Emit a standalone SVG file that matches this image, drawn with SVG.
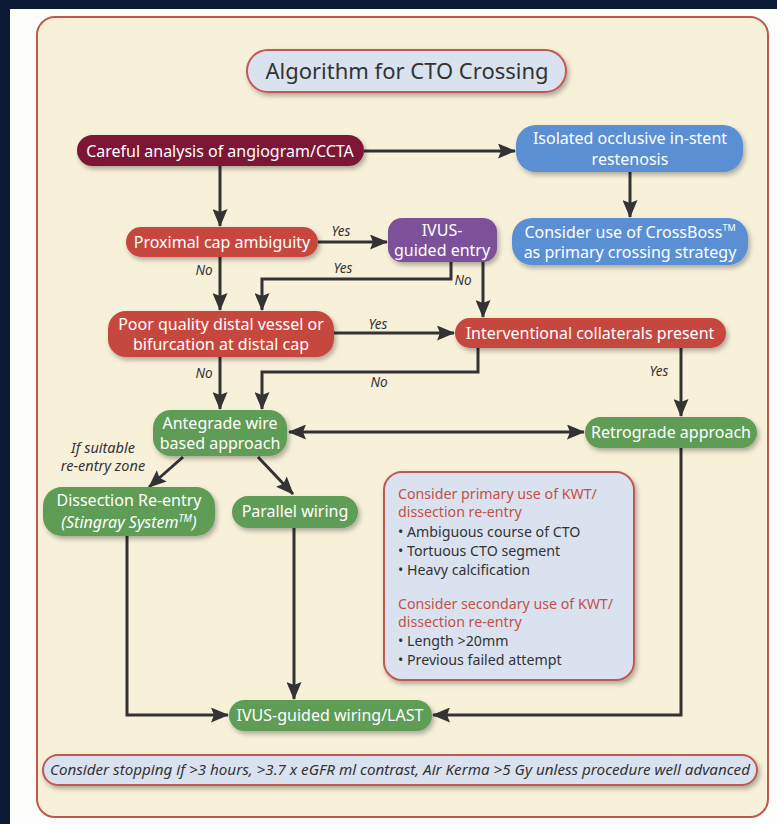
<svg xmlns="http://www.w3.org/2000/svg" width="777" height="824" viewBox="0 0 777 824">
<defs>
<filter id="sh" x="-10%" y="-20%" width="125%" height="160%">
<feDropShadow dx="2" dy="3" stdDeviation="2.5" flood-color="#000" flood-opacity="0.3"/>
</filter>
<marker id="ah" markerUnits="userSpaceOnUse" markerWidth="19" markerHeight="15" refX="17" refY="7.5" orient="auto-start-reverse">
<path d="M0,0 L18,7.5 L0,15 L3,7.5 z" fill="#333"/>
</marker>
<style>
.t{font-family:"Noto Sans","Liberation Sans",sans-serif;fill:#fff;font-size:16px;text-anchor:middle}
.lab{font-family:"Noto Sans","Liberation Sans",sans-serif;fill:#333;font-size:13.5px;font-style:italic;text-anchor:middle}
.lab2{font-family:"Noto Sans","Liberation Sans",sans-serif;fill:#333;font-size:14.5px;font-style:italic;text-anchor:middle}
.box{stroke:none;filter:url(#sh)}
.c{fill:none;stroke:#333;stroke-width:3;marker-end:url(#ah)}
.red{fill:#c6473c}
.grn{fill:#5f9c57}
.blu{fill:#5a8fd3}
.info{font-family:"Noto Sans","Liberation Sans",sans-serif;font-size:14.2px;fill:#333}
.ih{fill:#c4504a}
</style>
</defs>
<rect x="0" y="0" width="777" height="824" fill="#0c1a35"/>
<rect x="10" y="9" width="767" height="815" fill="#fdfdfb"/>
<rect x="37" y="17" width="731" height="800" rx="18" fill="#f8f1da" stroke="#c0584f" stroke-width="2"/>

<g id="title">
<rect x="247" y="50" width="319" height="42" rx="21" fill="#dae2ef" stroke="#bf5a52" stroke-width="2" filter="url(#sh)"/>
<text x="407" y="79" font-family="'Noto Sans','Liberation Sans',sans-serif" font-size="22" fill="#333" text-anchor="middle">Algorithm for CTO Crossing</text>
</g>

<g id="connectors">
<path class="c" d="M364,151 H515"/>
<path class="c" d="M630,172 V217"/>
<path class="c" d="M220,166 V226"/>
<path class="c" d="M318,242 H387"/>
<path class="c" d="M451,262 V279 H262 V310"/>
<path class="c" d="M483,262 V317"/>
<path class="c" d="M220,257 V310"/>
<path class="c" d="M334,333 H454"/>
<path class="c" d="M478,348 V372 H262 V409"/>
<path class="c" d="M220,357 V409"/>
<path class="c" d="M681,348 V416"/>
<path class="c" d="M289,432 H584" marker-start="url(#ah)"/>
<path class="c" d="M183,457 L149,487"/>
<path class="c" d="M258,457 L293,494"/>
<path class="c" d="M127,536 V715 H228"/>
<path class="c" d="M294,528 V699"/>
<path class="c" d="M681,448 V715 H433"/>
<text class="lab" x="341" y="236">Yes</text>
<text class="lab" x="343" y="273">Yes</text>
<text class="lab" x="204" y="275">No</text>
<text class="lab" x="463" y="285">No</text>
<text class="lab" x="378" y="329">Yes</text>
<text class="lab" x="204" y="378">No</text>
<text class="lab" x="379" y="387">No</text>
<text class="lab" x="659" y="376">Yes</text>
<text class="lab2" x="103" y="453">If suitable</text>
<text class="lab2" x="103" y="471">re-entry zone</text>
</g>

<g id="careful">
<rect class="box" x="77" y="135" width="287" height="31" rx="15.5" fill="#7d1836"/>
<text class="t" x="220" y="156.5">Careful analysis of angiogram/CCTA</text>
</g>
<g id="isr">
<rect class="box blu" x="516" y="125" width="227" height="47" rx="20"/>
<text class="t" x="630" y="144">Isolated occlusive in-stent</text>
<text class="t" x="630" y="164.5">restenosis</text>
</g>
<g id="crossboss">
<rect class="box blu" x="512" y="218" width="236" height="47" rx="20"/>
<text class="t" x="630" y="238">Consider use of CrossBoss<tspan font-size="9" dy="-7">TM</tspan></text>
<text class="t" x="630" y="258">as primary crossing strategy</text>
</g>
<g id="proximal">
<rect class="box red" x="126" y="227" width="192" height="30" rx="15"/>
<text class="t" x="222" y="248">Proximal cap ambiguity</text>
</g>
<g id="ivus-entry">
<rect class="box" x="388" y="218" width="109" height="44" rx="14" fill="#7b5199"/>
<text class="t" x="442" y="236">IVUS-</text>
<text class="t" x="442" y="256">guided entry</text>
</g>
<g id="poor">
<rect class="box red" x="108" y="311" width="226" height="46" rx="18"/>
<text class="t" x="221" y="330">Poor quality distal vessel or</text>
<text class="t" x="221" y="350">bifurcation at distal cap</text>
</g>
<g id="collaterals">
<rect class="box red" x="455" y="318" width="271" height="30" rx="15"/>
<text class="t" x="590" y="339">Interventional collaterals present</text>
</g>
<g id="antegrade">
<rect class="box grn" x="153" y="410" width="134" height="46" rx="18"/>
<text class="t" x="220" y="429">Antegrade wire</text>
<text class="t" x="220" y="449">based approach</text>
</g>
<g id="retrograde">
<rect class="box grn" x="585" y="417" width="172" height="31" rx="15.5"/>
<text class="t" x="671" y="438">Retrograde approach</text>
</g>
<g id="dissection">
<rect class="box grn" x="43" y="487" width="172" height="49" rx="19"/>
<text class="t" x="129" y="506">Dissection Re-entry</text>
<text class="t" x="129" y="528" font-style="italic">(Stingray System<tspan font-size="10" dy="-6">TM</tspan><tspan dy="6">)</tspan></text>
</g>
<g id="parallel">
<rect class="box grn" x="232" y="496" width="126" height="32" rx="16"/>
<text class="t" x="295" y="517">Parallel wiring</text>
</g>
<g id="info">
<rect x="384" y="472" width="250" height="208" rx="18" fill="#dae2ef" stroke="#bf5a52" stroke-width="2" filter="url(#sh)"/>
<text class="info ih" x="398" y="499">Consider primary use of KWT/</text>
<text class="info ih" x="398" y="517">dissection re-entry</text>
<text class="info" x="398" y="537">• Ambiguous course of CTO</text>
<text class="info" x="398" y="556">• Tortuous CTO segment</text>
<text class="info" x="398" y="575">• Heavy calcification</text>
<text class="info ih" x="398" y="609">Consider secondary use of KWT/</text>
<text class="info ih" x="398" y="627">dissection re-entry</text>
<text class="info" x="398" y="646">• Length &gt;20mm</text>
<text class="info" x="398" y="665">• Previous failed attempt</text>
</g>
<g id="ivus-wiring">
<rect class="box grn" x="229" y="700" width="203" height="31" rx="15.5"/>
<text class="t" x="330" y="721">IVUS-guided wiring/LAST</text>
</g>
<g id="footer">
<rect x="43" y="755" width="714" height="30" rx="15" fill="#dae2ef" stroke="#bf5a52" stroke-width="2" filter="url(#sh)"/>
<text x="400" y="775" font-family="'Noto Sans','Liberation Sans',sans-serif" font-size="13.5" font-style="italic" fill="#333" text-anchor="middle" textLength="700" lengthAdjust="spacingAndGlyphs">Consider stopping if &gt;3 hours, &gt;3.7 x eGFR ml contrast, Air Kerma &gt;5 Gy unless procedure well advanced</text>
</g>
</svg>
